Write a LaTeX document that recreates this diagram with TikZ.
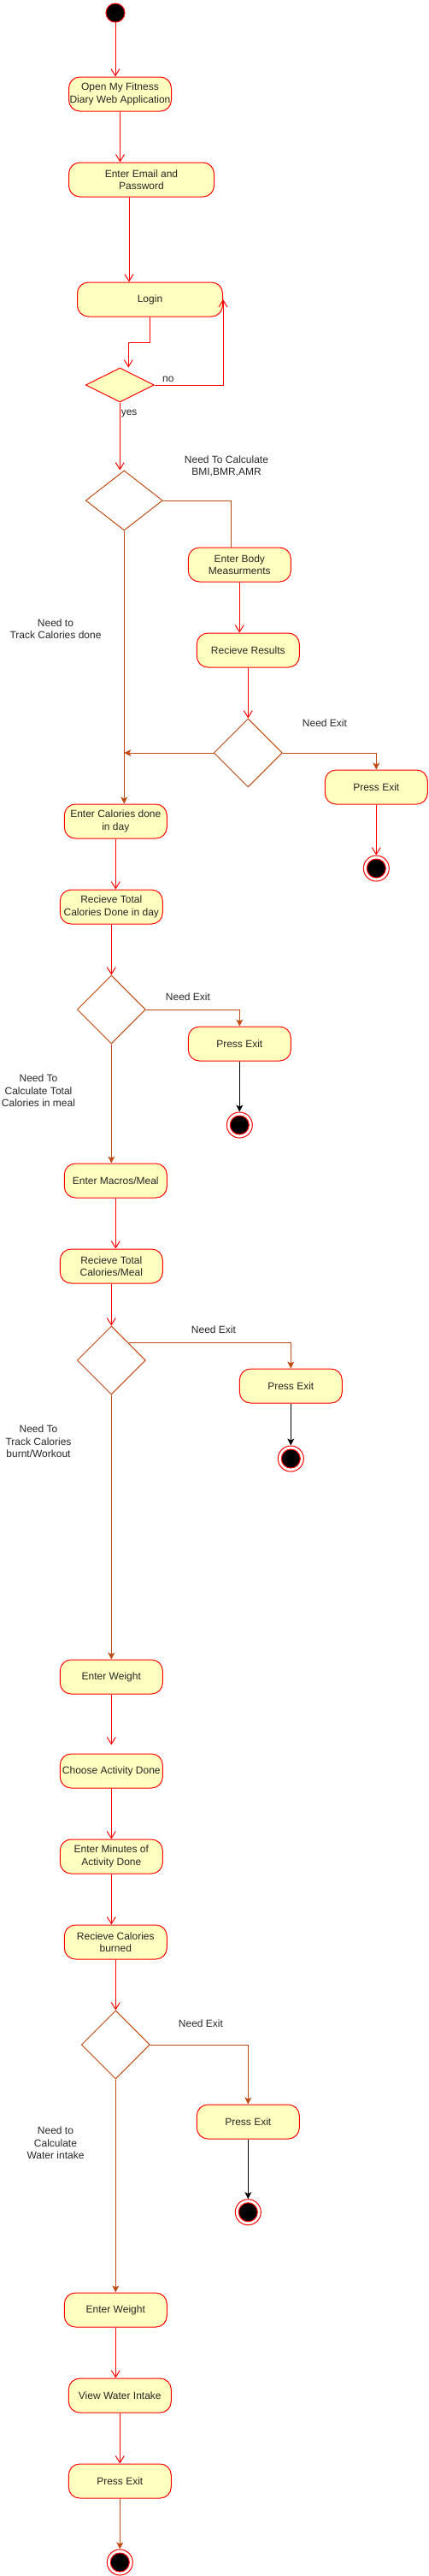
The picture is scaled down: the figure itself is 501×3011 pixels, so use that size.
\documentclass[tikz,border=0pt]{standalone}
\usepackage{fontspec}
\setmainfont{Liberation Sans}
\usepackage{tikz}
\usetikzlibrary{
  shapes.geometric,
  arrows.meta
}
\definecolor{actfill}{HTML}{FFFFC0}
\definecolor{branchcol}{HTML}{C04A14}

\begin{document}
\begin{tikzpicture}[
  x=1pt, y=-1pt,
  line width=1pt,
  font=\fontsize{12}{14.4}\selectfont,
  text=black!85,
  >={Straight Barb[length=8pt,width=10pt]},
  activity/.style={draw=red, fill=actfill, rounded corners=13pt,
    minimum width=120pt, minimum height=40pt, inner sep=0pt, align=center},
  decision/.style={diamond, draw=branchcol, minimum width=80pt,
    minimum height=80pt, inner sep=0pt},
  startdot/.style={circle, draw=red, fill=black, minimum size=22pt, inner sep=0pt},
  enddot/.style={circle, draw=red, fill=white, minimum size=30pt, inner sep=0pt,
    path picture={\fill[black, draw=red] (path picture bounding box.center) circle[radius=11pt];}},
  flow/.style={draw=red, ->},
  branch/.style={draw=branchcol, -{Stealth[length=8pt,width=8pt,inset=2pt]}},
  quit/.style={draw=black, -{Stealth[length=8pt,width=8pt,inset=2pt]}},
  note/.style={align=center},
]
\useasboundingbox (0,0) rectangle (501,3011);

\node[startdot] (start) at (135,15) {};
\node[activity] (open) at (140.5,110) {Open My Fitness\\Diary Web Application};
\node[activity, minimum width=170pt] (email) at (165.5,210) {Enter Email and\\Password};
\node[activity, minimum width=170pt] (login) at (175.5,350) {Login};
\node[decision, fill=actfill, draw=red, minimum height=40pt] (check) at (140.3,450) {};
\node[decision, minimum width=90pt, minimum height=70pt] (goal) at (145.3,585) {};
\node[activity] (body) at (280.3,660) {Enter Body\\Measurments};
\node[activity] (results) at (290.3,760) {Recieve Results};
\node[decision] (exitA) at (290.3,880) {};
\node[activity] (pressA) at (440.3,920) {Press Exit};
\node[enddot] (endA) at (440.3,1015) {};
\node[activity] (calday) at (135.3,960) {Enter Calories done\\in day};
\node[activity] (totday) at (130.3,1060) {Recieve Total\\Calories Done in day};
\node[decision] (exitB) at (130.3,1180) {};
\node[activity] (pressB) at (280.3,1220) {Press Exit};
\node[enddot] (endB) at (280.3,1315) {};
\node[activity] (macros) at (135.3,1380) {Enter Macros/Meal};
\node[activity] (totmeal) at (130.3,1480) {Recieve Total\\Calories/Meal};
\node[decision] (exitC) at (130.3,1590) {};
\node[activity] (pressC) at (340.3,1620) {Press Exit};
\node[enddot] (endC) at (340.3,1705) {};
\node[activity] (weight) at (130.3,1960) {Enter Weight};
\node[activity] (activity) at (130.3,2070) {Choose Activity Done};
\node[activity] (minutes) at (130.3,2170) {Enter Minutes of\\Activity Done};
\node[activity] (burned) at (135.3,2270) {Recieve Calories\\burned};
\node[decision] (exitD) at (135.3,2390) {};
\node[activity] (pressD) at (290.3,2480) {Press Exit};
\node[enddot] (endD) at (290.3,2585.7) {};
\node[activity] (weightw) at (135.3,2700) {Enter Weight};
\node[activity] (water) at (140.3,2800) {View Water Intake};
\node[activity] (pressE) at (140.3,2900) {Press Exit};
\node[enddot] (endE) at (140.3,2995) {};

\node[note] (bmi) at (265,545) {Need To Calculate\\BMI,BMR,AMR};
\node[note] (trackday) at (65,735) {Need to\\Track Calories done};
\node[note] (needA) at (380,845) {Need Exit};
\node[note] (needB) at (220,1165) {Need Exit};
\node[note] (trackmeal) at (45,1275) {Need To\\Calculate Total\\Calories in meal};
\node[note] (needC) at (250,1554) {Need Exit};
\node[note] (trackburn) at (45,1685) {Need To\\Track Calories\\burnt/Workout};
\node[note] (needD) at (235,2365) {Need Exit};
\node[note] (trackwater) at (65,2505) {Need to\\Calculate\\Water intake};

\draw[flow] (start) -- (start |- open.north);
\draw[flow] (open.south) -- (open.south |- email.north);
\draw[flow] ([xshift=-14.5pt]email.south) -- ([xshift=-24.5pt]login.north);
\draw[flow] (login.south) -- ++(0,30) -| ([xshift=10pt]check.north);
\draw[flow] (check.east) -| (login.east) node[pos=0.1, above] {no};
\draw[flow] (check.south) -- (check.south |- goal.north) node[pos=0.16, right, inner sep=1pt] {yes};
\draw[branch, -] (goal.east) -| ([xshift=-10pt]body.north);
\draw[flow] (body.south) -- (body.south |- results.north);
\draw[flow] (results) -- (exitA);
\draw[branch] (exitA.west) -- (exitA.west -| goal.south);
\draw[branch] (goal.south) -- (goal.south |- calday.north);
\draw[branch] (exitA.east) -| (pressA.north);
\draw[flow] (pressA) -- (endA);
\draw[flow] (calday.south) -- (calday.south |- totday.north);
\draw[flow] (totday) -- (exitB);
\draw[branch] (exitB.east) -| (pressB.north);
\draw[quit] (pressB) -- (endB);
\draw[branch] (exitB.south) -- (exitB.south |- macros.north);
\draw[flow] (macros.south) -- (macros.south |- totmeal.north);
\draw[flow] (totmeal) -- (exitC);
\draw[branch] (exitC.north east) -| (pressC.north);
\draw[quit] (pressC) -- (endC);
\draw[branch] (exitC) -- (weight);
\draw[flow, shorten >=10pt] (weight) -- (activity);
\draw[flow] (activity) -- (minutes);
\draw[flow] (minutes.south) -- (minutes.south |- burned.north);
\draw[flow] (burned) -- (exitD);
\draw[branch] (exitD.east) -| (pressD.north);
\draw[quit] (pressD) -- (endD);
\draw[branch] (exitD) -- (weightw);
\draw[flow] (weightw.south) -- (weightw.south |- water.north);
\draw[flow] (water) -- (pressE);
\draw[branch] (pressE) -- (endE);
\end{tikzpicture}
\end{document}
